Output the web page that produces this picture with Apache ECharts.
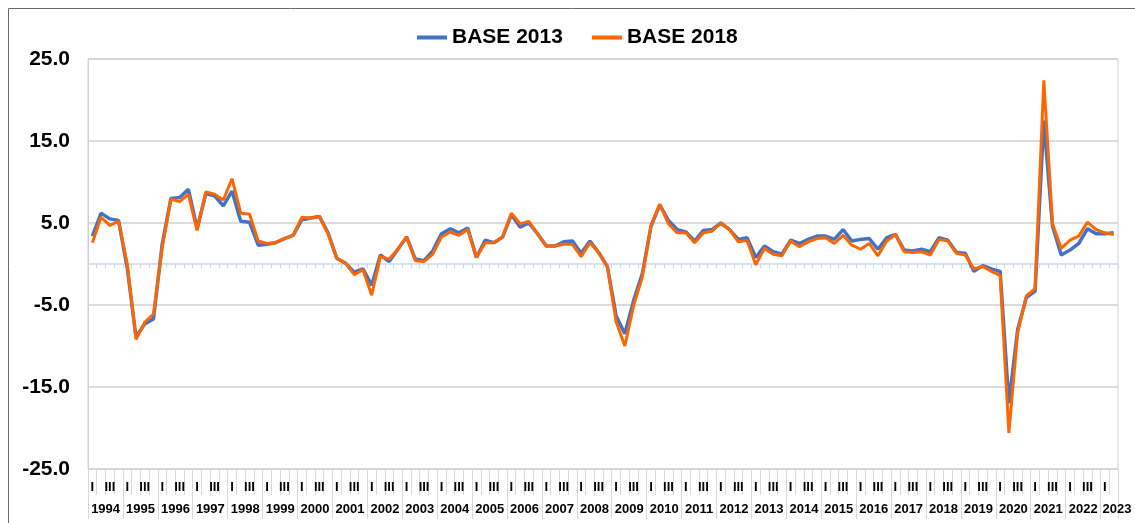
<!DOCTYPE html>
<html>
<head>
<meta charset="utf-8">
<script src="https://cdn.jsdelivr.net/npm/echarts@6/dist/echarts.min.js"></script>
<style>
  html, body { margin: 0; padding: 0; background: #fff; }
  #main { width: 1135px; height: 523px; }
</style>
</head>
<body>
<div id="main"></div>
<script>
// trimestres 1994-I .. 2023-II
var years = [];
for (var y = 1994; y <= 2023; y++) years.push(String(y));
var quarterNames = ['I', 'II', 'III', 'IV'];
var categories = [];
years.forEach(function (yr) {
  quarterNames.forEach(function (q) {
    if (yr === '2023' && (q === 'III' || q === 'IV')) return;
    categories.push(yr + '-' + q);
  });
});

var yTicks = [-25, -15, -5, 5, 15, 25];

var base2013 = [
  3.4, 6.2, 5.5, 5.3, -0.5, -8.9, -7.3, -6.7,
  2.4, 8.0, 8.1, 9.1, 4.3, 8.6, 8.3, 7.1,
  8.9, 5.2, 5.1, 2.3, 2.4, 2.6, 3.1, 3.5,
  5.4, 5.6, 5.8, 3.8, 0.7, 0.1, -1.0, -0.6,
  -2.6, 1.1, 0.3, 1.8, 3.3, 0.6, 0.4, 1.6,
  3.7, 4.3, 3.8, 4.4, 0.8, 2.9, 2.6, 3.3,
  6.0, 4.5, 5.0, 3.7, 2.2, 2.2, 2.7, 2.8,
  1.3, 2.8, 1.4, -0.3, -6.3, -8.5, -4.5, -1.2,
  4.6, 7.2, 5.3, 4.2, 3.9, 2.8, 4.1, 4.2,
  5.0, 4.2, 3.0, 3.2, 0.8, 2.2, 1.5, 1.2,
  2.9, 2.5, 3.0, 3.4, 3.4, 3.0, 4.2, 2.8,
  3.0, 3.1, 1.8, 3.2, 3.6, 1.7, 1.6, 1.8,
  1.5, 3.2, 2.9, 1.4, 1.3, -0.9, -0.2, -0.6,
  -0.9, -17.0, -8.0, -4.1, -3.3, 17.5, 4.6, 1.1,
  1.7, 2.5, 4.3, 3.7, 3.7, 3.8
];

var base2018 = [
  2.6, 5.7, 4.7, 5.2, 0.0, -9.2, -7.1, -6.1,
  2.0, 7.9, 7.6, 8.5, 4.1, 8.8, 8.5, 7.8,
  10.4, 6.2, 6.1, 2.8, 2.5, 2.6, 3.1, 3.5,
  5.7, 5.6, 5.8, 3.7, 0.7, 0.1, -1.3, -0.7,
  -3.8, 0.9, 0.6, 1.8, 3.3, 0.4, 0.3, 1.2,
  3.3, 3.9, 3.5, 4.2, 0.8, 2.6, 2.6, 3.3,
  6.2, 4.9, 5.2, 3.7, 2.2, 2.2, 2.4, 2.4,
  0.9, 2.6, 1.4, -0.3, -7.0, -10.0, -5.1, -1.6,
  4.7, 7.3, 4.9, 3.8, 3.8, 2.6, 3.8, 4.0,
  5.0, 4.2, 2.7, 2.9, -0.1, 1.9, 1.2, 1.0,
  2.8, 2.1, 2.7, 3.1, 3.2, 2.5, 3.5, 2.3,
  1.8, 2.5, 1.0, 2.8, 3.6, 1.5, 1.4, 1.5,
  1.1, 3.0, 2.8, 1.3, 1.1, -0.6, -0.3, -0.9,
  -1.4, -20.6, -8.4, -3.9, -3.0, 22.4, 4.9, 1.9,
  2.9, 3.4, 5.1, 4.2, 3.8, 3.6
];

var chart = echarts.init(document.getElementById('main'));

var font = 'Arial, "Liberation Sans", sans-serif';

var option = {
  animation: false,
  graphic: [{
    type: 'rect',
    silent: true,
    z: -10,
    shape: { x: 8.5, y: 8.5, width: 1300, height: 700 },
    style: { fill: 'none', stroke: '#6b6b6b', lineWidth: 1 }
  }],
  legend: {
    left: 412,
    top: 22,
    icon: 'rect',
    itemWidth: 30,
    itemHeight: 4,
    itemGap: 29,
    textStyle: { fontFamily: font, fontWeight: 'bold', fontSize: 21, color: '#000' },
    data: ['BASE 2013', 'BASE 2018']
  },
  grid: {
    left: 88, top: 59, width: 1030, height: 410,
    show: true, borderColor: '#d0d0d0', borderWidth: 1
  },
  xAxis: [
    {
      type: 'category',
      data: categories,
      boundaryGap: true,
      axisLine: { onZero: true, lineStyle: { color: '#cdd7ea', width: 1.5 } },
      axisTick: { show: true, interval: 0, length: 4, lineStyle: { color: '#cdd7ea' } },
      axisLabel: { show: false },
      splitLine: { show: false }
    },
    {
      type: 'category',
      data: categories,
      position: 'bottom',
      axisLine: { show: false, onZero: false },
      axisTick: { show: true, interval: 0, length: 26, lineStyle: { color: '#d9d9d9' } },
      axisLabel: {
        interval: 0,
        margin: 12,
        fontFamily: font, fontWeight: 'bold', fontSize: 13, color: '#000',
        formatter: function (v) {
          var q = v.split('-')[1];
          return (q === 'I' || q === 'III') ? q : '';
        }
      }
    },
    {
      type: 'category',
      data: categories,
      position: 'bottom',
      axisLine: { show: false, onZero: false },
      axisTick: {
        show: true, length: 50, lineStyle: { color: '#d9d9d9' },
        interval: function (i) { return i % 4 === 0; }
      },
      axisLabel: {
        margin: 34,
        fontFamily: font, fontWeight: 'bold', fontSize: 13, color: '#000',
        interval: function (i) { return i % 4 === 1 || i === 116; },
        formatter: function (v) {
          var yr = v.split('-')[0];
          return yr === '2023' ? '{last|' + yr + '}' : '{y|' + yr + '}';
        },
        rich: {
          y: { fontFamily: font, fontWeight: 'bold', fontSize: 13, color: '#000', padding: [0, 0, 0, 9] },
          last: { fontFamily: font, fontWeight: 'bold', fontSize: 13, color: '#000', padding: [0, 0, 0, 24] }
        }
      }
    }
  ],
  yAxis: {
    type: 'value',
    min: yTicks[0],
    max: yTicks[yTicks.length - 1],
    interval: 10,
    axisLine: { show: true, lineStyle: { color: '#d0d0d0' } },
    axisTick: { show: false },
    axisLabel: {
      margin: 18,
      fontFamily: font, fontWeight: 'bold', fontSize: 21, color: '#000',
      formatter: function (v) { return v.toFixed(1); }
    },
    splitLine: { lineStyle: { color: '#d0d0d0', width: 1.5 } }
  },
  series: [
    {
      name: 'BASE 2013',
      type: 'line',
      data: base2013,
      symbol: 'none',
      lineStyle: { color: '#4472C4', width: 3.5 },
      itemStyle: { color: '#4472C4' }
    },
    {
      name: 'BASE 2018',
      type: 'line',
      data: base2018,
      symbol: 'none',
      lineStyle: { color: '#FF6600', width: 3 },
      itemStyle: { color: '#FF6600' }
    }
  ]
};

chart.setOption(option);
</script>
</body>
</html>
